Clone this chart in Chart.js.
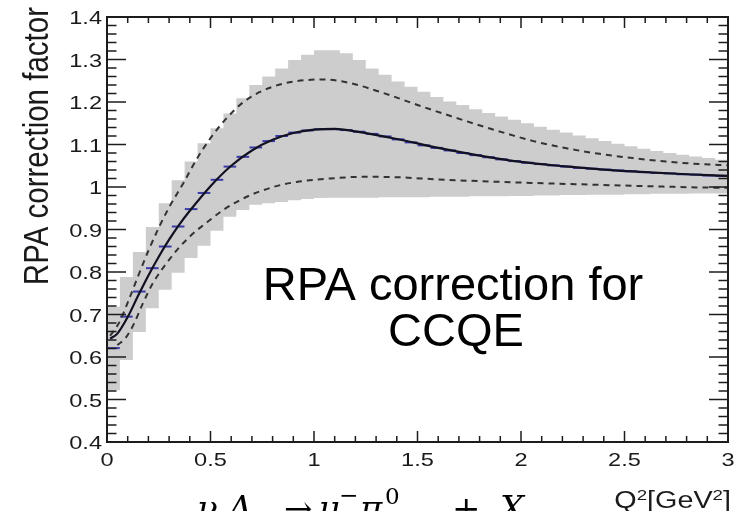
<!DOCTYPE html>
<html><head><meta charset="utf-8">
<script src="https://cdn.jsdelivr.net/npm/chart.js@4.4.1/dist/chart.umd.min.js"></script>
<style>html,body{margin:0;padding:0;background:#fff;overflow:hidden}</style>
</head><body>
<canvas id="c" width="737" height="511"></canvas>
<script>
// ---------------- data ----------------
const binWidth = 0.0625; // GeV^2, 48 bins over 0..3
const bandUpper = [0.718,0.788,0.847,0.906,0.962,1.016,1.060,1.103,1.138,1.173,1.209,1.240,1.260,1.279,1.299,1.311,1.322,1.322,1.315,1.299,1.279,1.264,1.248,1.236,1.224,1.212,1.201,1.193,1.183,1.174,1.166,1.158,1.150,1.142,1.135,1.128,1.121,1.115,1.108,1.102,1.096,1.090,1.085,1.080,1.076,1.072,1.068,1.064];
const bandLower = [0.522,0.593,0.659,0.715,0.758,0.798,0.833,0.862,0.897,0.930,0.946,0.958,0.962,0.965,0.969,0.972,0.974,0.975,0.975,0.975,0.975,0.976,0.976,0.976,0.976,0.977,0.977,0.977,0.978,0.978,0.978,0.979,0.979,0.980,0.980,0.981,0.981,0.982,0.982,0.982,0.983,0.983,0.984,0.984,0.984,0.985,0.985,0.985];
const rpaHist = [0.621,0.695,0.754,0.809,0.860,0.907,0.948,0.986,1.017,1.048,1.071,1.093,1.108,1.120,1.128,1.133,1.136,1.136,1.134,1.130,1.125,1.119,1.112,1.105,1.098,1.092,1.086,1.080,1.075,1.070,1.065,1.061,1.057,1.054,1.051,1.048,1.045,1.043,1.041,1.039,1.037,1.035,1.033,1.032,1.030,1.029,1.027,1.026];

const centralQ2 = [0.015,0.05,0.1,0.15,0.2,0.25,0.3,0.35,0.4,0.5,0.6,0.7,0.8,0.9,1.0,1.1,1.2,1.4,1.6,1.8,2.0,2.2,2.4,2.6,2.8,3.0];
const centralRPA = [0.643,0.655,0.694,0.744,0.792,0.836,0.876,0.912,0.944,1.002,1.050,1.086,1.111,1.127,1.135,1.137,1.131,1.113,1.092,1.074,1.059,1.049,1.041,1.035,1.030,1.026];

const upperQ2 = [0.015,0.06,0.1,0.15,0.2,0.25,0.3,0.37,0.43,0.5,0.58,0.66,0.75,0.85,0.95,1.05,1.17,1.33,1.5,1.66,1.82,1.95,2.06,2.22,2.38,2.54,2.7,2.86,3.0];
const upperRPA = [0.650,0.682,0.728,0.790,0.850,0.904,0.952,1.010,1.063,1.115,1.163,1.200,1.226,1.243,1.251,1.253,1.245,1.222,1.193,1.167,1.142,1.123,1.108,1.091,1.078,1.068,1.060,1.054,1.051];

const lowerQ2 = [0.05,0.09,0.13,0.174,0.222,0.288,0.353,0.417,0.465,0.562,0.675,0.803,0.916,1.077,1.238,1.4,1.593,1.9,2.38,2.86,3.0];
const lowerRPA = [0.628,0.645,0.678,0.727,0.774,0.821,0.860,0.891,0.910,0.946,0.977,1.000,1.012,1.020,1.024,1.023,1.018,1.012,1.005,0.999,0.998];

const xTickValues = [0,0.5,1,1.5,2,2.5,3];
const xTickLabels = ['0','0.5','1','1.5','2','2.5','3'];
const yTickValues = [0.4,0.5,0.6,0.7,0.8,0.9,1.0,1.1,1.2,1.3,1.4];
const yTickLabels = ['0.4','0.5','0.6','0.7','0.8','0.9','1','1.1','1.2','1.3','1.4'];
const xMinorStep = 0.1;
const yMinorStep = 0.02;
const yAxisTitle = 'RPA correction factor';
const annotationLines = ['RPA correction for', 'CCQE'];

// ---------------- build points ----------------
const nBins = bandUpper.length;
const edgePts = (vals) => {
  const p = vals.map((v, k) => ({x: k * binWidth, y: v}));
  p.push({x: nBins * binWidth, y: vals[nBins - 1]});
  return p;
};
const zip = (xs, ys) => xs.map((x, i) => ({x, y: ys[i]}));
const histPts = rpaHist.map((v, k) => ({x: (k + 0.5) * binWidth, y: v}));

const SANS = "'Liberation Sans', Arial, sans-serif";
const SERIF = "'DejaVu Serif', 'Liberation Serif', serif";

function stretchText(ctx, text, x, y, font, align, sx, baseline) {
  ctx.save();
  ctx.translate(x, y);
  ctx.scale(sx, 1);
  ctx.font = font;
  ctx.textAlign = align;
  ctx.textBaseline = baseline || 'alphabetic';
  ctx.fillText(text, 0, 0);
  ctx.restore();
}

const rootFrame = {
  id: 'rootFrame',
  afterDatasetsDraw(chart) {
    const ctx = chart.ctx, a = chart.chartArea;
    const xs = chart.scales.x, ys = chart.scales.y;
    ctx.save();
    ctx.strokeStyle = '#1c1c1c';
    ctx.lineWidth = 1.5;
    ctx.beginPath();
    const nx = Math.round((xs.max - xs.min) / xMinorStep);
    for (let i = 0; i <= nx; i++) {
      const v = xs.min + i * xMinorStep;
      const major = xTickValues.some(t => Math.abs(t - v) < 1e-6);
      const px = xs.getPixelForValue(v);
      const len = major ? 11 : 6;
      ctx.moveTo(px, a.bottom); ctx.lineTo(px, a.bottom - len);
      ctx.moveTo(px, a.top); ctx.lineTo(px, a.top + len);
    }
    const ny = Math.round((ys.max - ys.min) / yMinorStep);
    for (let i = 0; i <= ny; i++) {
      const v = ys.min + i * yMinorStep;
      const major = yTickValues.some(t => Math.abs(t - v) < 1e-6);
      const py = ys.getPixelForValue(v);
      const len = major ? 19 : 9.5;
      ctx.moveTo(a.left, py); ctx.lineTo(a.left + len, py);
      ctx.moveTo(a.right, py); ctx.lineTo(a.right - len, py);
    }
    ctx.stroke();
    ctx.lineWidth = 2;
    ctx.strokeRect(a.left, a.top, a.right - a.left, a.bottom - a.top);
    ctx.restore();
  },
  afterDraw(chart) {
    const ctx = chart.ctx, a = chart.chartArea;
    const xs = chart.scales.x, ys = chart.scales.y;
    ctx.save();
    ctx.fillStyle = '#1a1a1a';
    const tickFont = '19px ' + SANS;
    yTickValues.forEach((v, i) => {
      stretchText(ctx, yTickLabels[i], a.left - 5, ys.getPixelForValue(v) + 7, tickFont, 'right', 1.24);
    });
    xTickValues.forEach((v, i) => {
      stretchText(ctx, xTickLabels[i], xs.getPixelForValue(v), a.bottom + 23.5, tickFont, 'center', 1.24);
    });
    // y title (rotated, aligned to the top)
    ctx.save();
    ctx.translate(48, 7);
    ctx.scale(1.2, 1);
    ctx.rotate(-Math.PI / 2);
    ctx.font = '29.5px ' + SANS;
    ctx.textAlign = 'right';
    ctx.textBaseline = 'alphabetic';
    ctx.fillText(yAxisTitle, 0, 0);
    ctx.restore();
    // x title Q^2[GeV^2], right aligned
    const sx = 1.25, big = '23px ' + SANS, small = '15px ' + SANS;
    const parts = [['Q', big, 0], ['2', small, -8], ['[GeV', big, 0], ['2', small, -8], [']', big, 0]];
    let w = 0;
    parts.forEach(p => { ctx.font = p[1]; w += ctx.measureText(p[0]).width; });
    let x = a.right + 3 - w * sx;
    parts.forEach(p => {
      ctx.font = p[1];
      const pw = ctx.measureText(p[0]).width;
      stretchText(ctx, p[0], x, 508 + p[2], p[1], 'left', sx);
      x += pw * sx;
    });
    // annotation
    ctx.font = '47px ' + SANS;
    ctx.textAlign = 'center';
    ctx.textBaseline = 'alphabetic';
    ctx.fillStyle = '#000';
    ctx.fillText(annotationLines[0], 453, 300);
    ctx.fillText(annotationLines[1], 456, 346);
    // reaction formula (cut by the bottom edge)
    const f = (t, x, y, sz, it) => {
      ctx.font = (it ? 'italic ' : '') + sz + 'px ' + SERIF;
      ctx.textAlign = 'left';
      ctx.fillText(t, x, y);
    };
    f('\u03BD', 197, 520, 34, true);
    f('\u03BC', 217, 529, 23, true);
    f('A', 228, 520, 34, true);
    f('\u2192', 284, 520, 34, false);
    f('\u03BC', 318, 520, 34, true);
    f('\u2212', 339, 503, 23, false);
    f('\u03C0', 360, 520, 34, true);
    f('0', 385, 504, 23, false);
    f('+', 452, 520, 34, false);
    f('X', 500, 520, 34, true);
    ctx.restore();
  }
};

new Chart(document.getElementById('c'), {
  type: 'line',
  data: {
    datasets: [
      {label: 'central', data: zip(centralQ2, centralRPA), borderColor: '#111122', borderWidth: 2.2, pointRadius: 0, cubicInterpolationMode: 'monotone', fill: false, order: 1},
      {label: 'upper', data: zip(upperQ2, upperRPA), borderColor: '#333333', borderWidth: 2, borderDash: [6, 5], pointRadius: 0, cubicInterpolationMode: 'monotone', fill: false, order: 2},
      {label: 'lower', data: zip(lowerQ2, lowerRPA), borderColor: '#333333', borderWidth: 2, borderDash: [6, 5], pointRadius: 0, cubicInterpolationMode: 'monotone', fill: false, order: 3},
      {label: 'hist', data: histPts, showLine: false, pointStyle: 'line', pointRadius: 6.3, pointBorderWidth: 2, pointBorderColor: '#3a3aa8', pointBackgroundColor: '#3a3aa8', order: 4},
      {label: 'bandHi', data: edgePts(bandUpper), stepped: 'before', borderColor: 'rgba(0,0,0,0)', borderWidth: 1, pointRadius: 0, fill: '+1', backgroundColor: 'rgb(205,205,205)', order: 5},
      {label: 'bandLo', data: edgePts(bandLower), stepped: 'before', borderColor: 'rgba(0,0,0,0)', borderWidth: 1, pointRadius: 0, fill: false, order: 6}
    ]
  },
  options: {
    responsive: false,
    devicePixelRatio: 1,
    animation: false,
    events: [],
    layout: {padding: {left: 107, right: 9, top: 17, bottom: 69}},
    plugins: {legend: {display: false}, tooltip: {enabled: false}},
    scales: {
      x: {type: 'linear', min: 0, max: 3, display: false},
      y: {type: 'linear', min: 0.4, max: 1.4, display: false}
    }
  },
  plugins: [rootFrame]
});
</script>
</body></html>
